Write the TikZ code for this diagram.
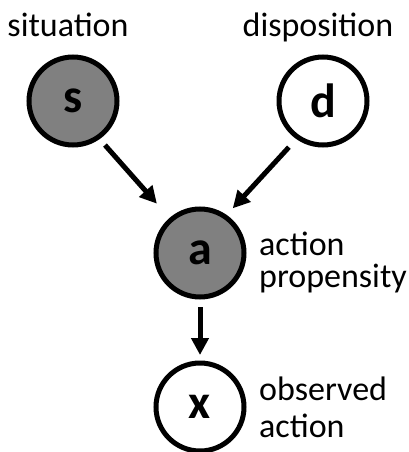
\documentclass[tikz,border=0pt]{standalone}
\usepackage{fontspec}
\setmainfont{Carlito}
\usetikzlibrary{arrows.meta}
\definecolor{hidgray}{RGB}{128,128,128}
\begin{document}
\begin{tikzpicture}[x=1pt,y=-1pt,
  var/.style={circle,draw=black,line width=5pt,minimum size=88pt,inner sep=0pt,font=\fontsize{48}{48}\selectfont\bfseries},
  obs/.style={var,fill=white},
  hid/.style={var,fill=hidgray},
  lbl/.style={font=\fontsize{34}{32}\selectfont,inner sep=0pt},
  edge/.style={line width=5pt,-{Triangle[length=17pt,width=17pt]}}]
\useasboundingbox (0,0) rectangle (408,452);
\node[hid] (s) at (73,101) {s};
\node[obs] (d) at (323,101) {d};
\node[hid] (a) at (200,253) {a};
\node[obs] (x) at (200,407) {x};
\node[lbl,anchor=base] (ls) at (68,37) {situation};
\node[lbl,anchor=base] (ld) at (318,37) {disposition};
\node[lbl,anchor=base west,align=left] (la) at (259,287) {action\\propensity};
\node[lbl,anchor=base west,align=left] (lx) at (259,437) {observed\\[5pt]action};
\draw[edge,shorten <=8pt,shorten >=19pt] (s.-55) -- (a.131);
\draw[edge,shorten <=11pt,shorten >=9pt] (d.235) -- (a.55);
\draw[edge,shorten <=7.5pt,shorten >=5.5pt] (a.south) -- (x.north);
\end{tikzpicture}
\end{document}
